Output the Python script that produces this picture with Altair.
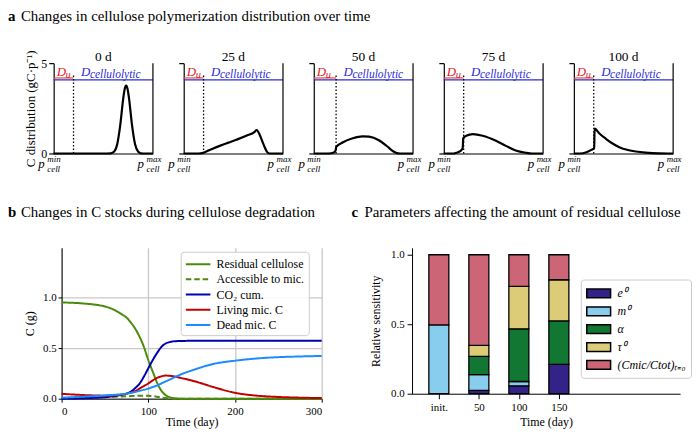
import json
import altair as alt
import pandas as pd

FONT = "Liberation Serif"

# ---------------- panel a : polymerization distributions ----------------
a_titles = ["0 d", "25 d", "50 d", "75 d", "100 d"]
a_cut = [0.2, 0.2, 0.225, 0.2, 0.2]
a_p = [
    [0, 0.5, 0.575, 0.61, 0.64, 0.67, 0.70, 0.715, 0.73, 0.745, 0.76, 0.79, 0.82, 0.85, 0.88, 0.92, 1.0],
    [0, 0.15, 0.195, 0.28, 0.362, 0.45, 0.53, 0.631, 0.715, 0.735, 0.765, 0.805, 0.839, 0.866, 1.0],
    [0, 0.15, 0.197, 0.216, 0.222, 0.226, 0.295, 0.393, 0.49, 0.557, 0.656, 0.738, 0.803, 0.836, 0.87, 1.0],
    [0, 0.1, 0.126, 0.166, 0.19, 0.196, 0.226, 0.292, 0.392, 0.525, 0.625, 0.724, 0.824, 0.89, 1.0],
    [0, 0.06, 0.126, 0.176, 0.205, 0.209, 0.26, 0.326, 0.39, 0.458, 0.525, 0.625, 0.724, 0.857, 1.0],
]
a_c = [
    [0, 0, 0.01, 0.11, 0.51, 1.54, 3.01, 3.56, 3.76, 3.56, 3.01, 1.54, 0.51, 0.11, 0.01, 0, 0],
    [0, 0, 0.036, 0.24, 0.42, 0.6, 0.76, 0.98, 1.2, 1.3, 1.04, 0.49, 0.09, 0, 0],
    [0, 0, 0.04, 0.13, 0.2, 0.36, 0.62, 0.84, 0.95, 0.93, 0.73, 0.4, 0.11, 0.02, 0, 0],
    [0, 0, 0.04, 0.13, 0.3, 0.85, 0.98, 1.07, 0.98, 0.7, 0.42, 0.16, 0.04, 0, 0],
    [0, 0, 0.07, 0.2, 0.3, 1.38, 1.09, 0.8, 0.55, 0.35, 0.22, 0.11, 0.05, 0.01, 0],
]
A_BLUE_Y = 4.07
A_RED_Y = 4.18
A_DOT_TOP = 4.4

# ---------------- panel b : C stocks ----------------
b_names = ["Residual cellulose", "Accessible to mic.", "CO₂ cum.", "Living mic. C", "Dead mic. C"]
b_colors = ["#4b8b0b", "#4b8b0b", "#0000b0", "#c00000", "#1a8cff"]
b_dashes = [[1, 0], [5.5, 3], [1, 0], [1, 0], [1, 0]]
b_t = [0, 25, 50, 60, 70, 75, 80, 85, 90, 95, 100, 105, 110, 115, 120, 125, 130, 140, 150, 160, 175, 200, 225, 250, 275, 300]
b_resid = [0.95, 0.94, 0.91, 0.88, 0.83, 0.80, 0.75, 0.69, 0.61, 0.51, 0.38, 0.27, 0.16, 0.08, 0.035, 0.013, 0.005, 0, 0, 0, 0, 0, 0, 0, 0, 0]
b_access = [0.004, 0.008, 0.015, 0.018, 0.022, 0.024, 0.026, 0.028, 0.029, 0.03, 0.029, 0.026, 0.02, 0.012, 0.006, 0.002, 0, 0, 0, 0, 0, 0, 0, 0, 0, 0]
b_co2 = [0, 0.005, 0.015, 0.025, 0.04, 0.05, 0.07, 0.105, 0.15, 0.22, 0.30, 0.38, 0.45, 0.51, 0.545, 0.56, 0.567, 0.57, 0.572, 0.573, 0.573, 0.573, 0.573, 0.573, 0.573, 0.573]
b_living = [0.048, 0.036, 0.03, 0.033, 0.042, 0.05, 0.06, 0.075, 0.1, 0.125, 0.15, 0.18, 0.205, 0.22, 0.228, 0.226, 0.22, 0.2, 0.18, 0.155, 0.115, 0.058, 0.03, 0.017, 0.01, 0.006]
b_dead = [0.01, 0.02, 0.032, 0.038, 0.045, 0.05, 0.058, 0.066, 0.077, 0.088, 0.1, 0.115, 0.13, 0.15, 0.17, 0.19, 0.21, 0.248, 0.278, 0.307, 0.343, 0.375, 0.397, 0.41, 0.417, 0.422]

# ---------------- panel c : sensitivities ----------------
c_times = ["init.", "50", "100", "150"]
c_params = ["e⁰", "m⁰", "α", "τ⁰", "(Cmic/Ctot)ₜ₌₀"]
c_colors = ["#332288", "#88ccee", "#117733", "#ddcc77", "#cc6677"]
c_e0 = [0.0, 0.024, 0.057, 0.211]
c_m0 = [0.495, 0.113, 0.031, 0.0]
c_alpha = [0.0, 0.131, 0.379, 0.313]
c_tau0 = [0.0, 0.080, 0.306, 0.296]
c_cmic = [0.505, 0.652, 0.227, 0.180]

RED_LINE = "#f0553a"
RED_TXT = "#e0202a"
BLUE_C = "#2b2bd8"
TITLE_SIZE = 15


def txt(text, x, y, size, color="black", style="normal", weight="normal",
        align="left", dx=0, baseline="alphabetic"):
    return alt.Chart(pd.DataFrame({"t": [text]})).mark_text(
        font=FONT, fontSize=size, fontStyle=style, fontWeight=weight, color=color,
        align=align, baseline=baseline, dx=dx
    ).encode(text="t:N", x=x, y=y)


W_A, H_A = 100, 91


def panel_a(i):
    cut = a_cut[i]
    curve = pd.DataFrame({"p": a_p[i], "c": a_c[i]})
    xax = alt.Axis(ticks=False, labels=False, title=None, grid=False, domainWidth=1.2)
    ykw = dict(values=[0, 5], labels=(i == 0), tickSize=5, grid=False, labelFontSize=12,
               labelPadding=2, domainWidth=1.2, tickWidth=1.2)
    if i == 0:
        ykw.update(title="C distribution (gC·p⁻¹)", titleFontSize=13, titlePadding=3)
    else:
        ykw.update(title=None)
    xs = alt.Scale(domain=[0, 1], nice=False)
    ys = alt.Scale(domain=[0, 5], nice=False)
    line = alt.Chart(curve).mark_line(color="black", strokeWidth=2.2, interpolate="monotone").encode(
        x=alt.X("p:Q", scale=xs, axis=xax), y=alt.Y("c:Q", scale=ys, axis=alt.Axis(**ykw)))
    hl = pd.DataFrame({"p": [0, 0], "p2": [1, cut], "c": [A_BLUE_Y, A_RED_Y], "col": [BLUE_C, RED_LINE]})
    hrule = alt.Chart(hl).mark_rule(strokeWidth=1.3).encode(
        x="p:Q", x2="p2:Q", y="c:Q", color=alt.Color("col:N", scale=None))
    dot = alt.Chart(pd.DataFrame({"p": [cut], "c": [0], "c2": [A_DOT_TOP]})).mark_rule(
        strokeDash=[1.5, 2], strokeWidth=1.3, color="black").encode(x="p:Q", y="c:Q", y2="c2:Q")
    spine = alt.Chart(pd.DataFrame({"p": [1], "c": [0], "c2": [5]})).mark_rule(
        color="black", strokeWidth=1.2).encode(x="p:Q", y="c:Q", y2="c2:Q")
    layers = [line, hrule, dot, spine,
              txt(a_titles[i], alt.datum(0.5), alt.value(-2), 13.5, align="center"),
              txt("D", alt.datum(0.03), alt.datum(4.3), 13, RED_TXT, "italic"),
              txt("u", alt.datum(0.12), alt.datum(4.17), 10.5, RED_TXT, "italic"),
              txt("D", alt.datum(cut + 0.075), alt.datum(4.3), 13, BLUE_C, "italic"),
              txt("cellulolytic", alt.datum(cut + 0.165), alt.datum(4.15), 11.5, BLUE_C, "italic")]
    for xv, sup in [(0, "min"), (1, "max")]:
        layers.append(txt("p", alt.datum(xv), alt.value(H_A + 15), 13, style="italic", align="right", dx=-9))
        layers.append(txt(sup, alt.datum(xv), alt.value(H_A + 9), 9, style="italic", dx=-6.5))
        layers.append(txt("cell", alt.datum(xv), alt.value(H_A + 18.5), 9, style="italic", dx=-6.5))
    if i == 0:
        layers.append(txt("a", alt.value(-46), alt.value(-42), TITLE_SIZE, weight="bold"))
        layers.append(txt("Changes in cellulose polymerization distribution over time",
                          alt.value(-33), alt.value(-42), TITLE_SIZE))
    return alt.layer(*layers).properties(width=W_A, height=H_A)


# ---------------- panel b ----------------
rows = []
for name, vals in zip(b_names, [b_resid, b_access, b_co2, b_living, b_dead]):
    for t, v in zip(b_t, vals):
        rows.append({"t": t, "v": v, "s": name})
df_b = pd.DataFrame(rows)

# legends are lifted to the top-level group, whose origin is the first plot of row a
leg_b = alt.Legend(orient="none", legendX=128, legendY=190, title=None,
                   fillColor="rgba(255,255,255,0.9)", strokeColor="#cccccc", cornerRadius=3,
                   padding=4, symbolType="M-1.65,0H1.65", symbolSize=225, symbolStrokeWidth=2,
                   symbolOffset=5, labelOffset=10, labelFont=FONT, labelFontSize=12,
                   rowPadding=0.3)
W_B, H_B = 262, 152
pb_lines = alt.Chart(df_b).mark_line(strokeWidth=2, interpolate="monotone").encode(
    x=alt.X("t:Q", scale=alt.Scale(domain=[0, 300], nice=False),
            axis=alt.Axis(values=[0, 100, 200, 300], title="Time (day)", grid=True,
                          gridColor="#c8c8c8", gridWidth=1.3, tickSize=3.5, labelFontSize=11,
                          titleFontSize=12, titlePadding=1, labelPadding=3)),
    y=alt.Y("v:Q", scale=alt.Scale(domain=[0, 1.49], nice=False),
            axis=alt.Axis(values=[0, 0.5, 1.0], format=".1f", title="C (g)", grid=True,
                          gridColor="#c8c8c8", gridWidth=1.3, tickSize=3.5, labelFontSize=11,
                          titleFontSize=12, titlePadding=6, labelPadding=2)),
    color=alt.Color("s:N", scale=alt.Scale(domain=b_names, range=b_colors), legend=leg_b),
    strokeDash=alt.StrokeDash("s:N", scale=alt.Scale(domain=b_names, range=b_dashes), legend=leg_b),
)
pb = alt.layer(
    pb_lines,
    txt("b", alt.value(-54), alt.value(-31), TITLE_SIZE, weight="bold"),
    txt("Changes in C stocks during cellulose degradation", alt.value(-41), alt.value(-31), TITLE_SIZE),
).properties(width=W_B, height=H_B)

# ---------------- panel c ----------------
rows = []
for k, (param, vals) in enumerate(zip(c_params, [c_e0, c_m0, c_alpha, c_tau0, c_cmic])):
    for j, v in enumerate(vals):
        rows.append({"i": j, "k": k, "param": param, "v": v})
df_c = pd.DataFrame(rows)
label_expr = json.dumps(c_times) + "[datum.value]"

leg_c = alt.Legend(orient="none", legendX=531, legendY=218, title=None,
                   fillColor="rgba(255,255,255,0.9)", strokeColor="#cccccc", cornerRadius=3,
                   padding=5, symbolType="M-1.5,-0.55H1.5V0.55H-1.5Z", symbolSize=256,
                   symbolStrokeColor="black", symbolStrokeWidth=1.5, symbolOffset=4,
                   labelOffset=10, labelFont=FONT, labelFontSize=12, labelFontStyle="italic",
                   rowPadding=1)
W_C, H_C = 270, 147
pc_bars = alt.Chart(df_c).transform_filter("datum.v > 0").transform_stack(
    stack="v", groupby=["i"], sort=[alt.SortField("k")], as_=["y0", "y1"]
).transform_calculate(x0="datum.i - 0.25", x1="datum.i + 0.25").mark_bar(
    stroke="black", strokeWidth=1.3).encode(
    x=alt.X("x0:Q", scale=alt.Scale(domain=[-0.67, 6.03], nice=False),
            axis=alt.Axis(values=[0, 1, 2, 3], labelExpr=label_expr, title="Time (day)",
                          grid=False, tickSize=5, labelFontSize=11, labelPadding=3,
                          titleFontSize=12, titlePadding=4)),
    x2="x1:Q",
    y=alt.Y("y0:Q", scale=alt.Scale(domain=[0, 1.05], nice=False),
            axis=alt.Axis(values=[0, 0.5, 1.0], format=".1f", title="Relative sensitivity",
                          grid=False, tickSize=5, labelFontSize=11, labelPadding=3,
                          titleFontSize=12, titlePadding=8)),
    y2="y1:Q",
    fill=alt.Fill("param:N", scale=alt.Scale(domain=c_params, range=c_colors), legend=leg_c),
)
pc = alt.layer(
    pc_bars,
    txt("c", alt.value(-61), alt.value(-31), TITLE_SIZE, weight="bold"),
    txt("Parameters affecting the amount of residual cellulose", alt.value(-48), alt.value(-31), TITLE_SIZE),
).properties(width=W_C, height=H_C)


def spacer(w, h):
    return alt.Chart(pd.DataFrame({"z": [0]})).mark_point(opacity=0).encode(
        x=alt.X("z:Q", axis=None), y=alt.Y("z:Q", axis=None)).properties(width=w, height=h)


top = alt.hconcat(*[panel_a(i) for i in range(5)], spacing=31, bounds="flush")
bottom = alt.hconcat(spacer(8, 10), pb, spacer(91, 10), pc, spacing=0, bounds="flush")
# with flush bounds the nested row group counts as zero height, so the spacing spans row a too
chart = alt.vconcat(top, bottom, spacing=186, bounds="flush").properties(padding=0).configure_view(
    stroke=None).configure_axis(
    labelFont=FONT, titleFont=FONT, labelColor="black", titleColor="black",
    domainColor="black", tickColor="black", titleFontWeight="normal")

chart.save("out.html", embed_options={"renderer": "svg", "actions": False})
